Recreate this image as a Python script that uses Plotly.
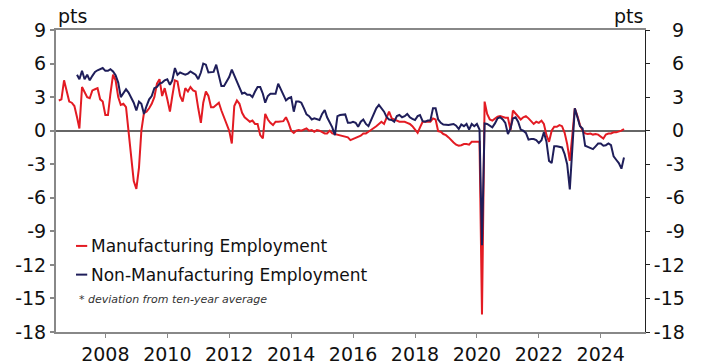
import pandas as pd
import plotly.graph_objects as go

# Monthly values, deviation from ten-year average (pts)
mfg_start = "2006-07-01"
mfg_values = [
    2.7, 2.8, 4.5, 3.6, 2.6, 2.5,
    2.2, 1.2, 0.2, 3.9, 3.4, 3.0, 2.9, 3.6, 3.7, 3.8, 2.8, 2.6,
    1.4, 1.4, 3.3, 5.0, 4.5, 3.0, 2.3, 2.4, 2.1, -0.2, -2.7, -4.5,
    -5.2, -3.3, 0.0, 1.6, 1.7, 2.0, 2.4, 3.0, 4.2, 4.6, 3.1, 3.8,
    2.8, 1.7, 3.1, 4.5, 4.4, 3.1, 2.6, 3.8, 3.5, 3.9, 3.6, 3.5,
    2.0, 0.7, 2.5, 3.5, 3.1, 2.1, 2.1, 2.3, 2.5, 1.8, 1.2, 0.7,
    0.0, -1.15, 2.2, 2.7, 2.4, 1.6, 1.2, 1.0, 0.8, 0.9, 0.6, 0.6,
    -0.4, -0.7, 1.5, 1.0, 0.7, 0.5, 0.8, 0.8, 0.85, 0.85, 1.2, 0.7,
    0.0, -0.2, 0.0, 0.05, 0.0, 0.1, 0.2, 0.0, 0.05, -0.1, 0.05, 0.0,
    -0.1, -0.25, -0.25, 0.0, -0.25, -0.3, -0.4, -0.4, -0.45, -0.55, -0.6, -0.85,
    -0.75, -0.6, -0.5, -0.45, -0.25, -0.25, -0.1, 0.05, 0.2, 0.4, 0.6, 0.8,
    0.6, 1.1, 1.7, 1.1, 1.0, 0.95, 0.8, 0.8, 0.8, 0.7, 0.6, 0.4,
    0.1, -0.2, 0.3, 0.8, 0.8, 0.8, 0.8, 1.1, 1.0, -0.05, -0.1, -0.3,
    -0.4, -0.6, -0.85, -1.05, -1.25, -1.35, -1.3, -1.2, -1.2, -1.25, -1.0, -1.0,
    -1.0, -1.0, -16.44, 2.6, 1.5, 1.0, 0.9, 1.1, 1.25, 1.3, 1.2, 1.15,
    1.15, 0.05, 1.8, 1.5, 1.2, 1.0, 1.2, 1.3, 1.1, 0.8, 0.6, 0.8,
    0.7, 0.9, 0.6, -0.4, -1.0, 0.0, 0.35, 0.35, 0.5, 0.4, -0.2, -1.2,
    -2.7, -0.3, 2.0, 1.3, 0.5, 0.0, -0.25, -0.3, -0.25, -0.35, -0.3, -0.35,
    -0.5, -0.7, -0.35, -0.25, -0.25, -0.15, -0.15, -0.1, 0.0, 0.15,
]

nonmfg_start = "2007-02-01"
nonmfg_values = [
    5.0, 4.6, 5.35, 4.6, 5.0, 4.5, 4.9, 5.25, 5.4, 5.5, 5.6,
    5.35, 5.35, 5.5, 5.3, 4.95, 4.3, 3.0, 3.4, 3.7, 3.4, 2.9, 2.5,
    1.8, 2.6, 2.4, 1.5, 2.2, 2.8, 3.1, 3.8, 3.9, 4.2, 4.3, 4.5,
    4.6, 4.1, 4.5, 5.6, 5.0, 5.2, 5.1, 5.0, 5.1, 5.3, 5.15, 5.0,
    4.6, 5.2, 6.0, 5.9, 5.2, 5.2, 5.25, 5.9, 5.0, 4.0, 4.0, 4.4,
    4.8, 5.45, 4.9, 4.35, 3.9, 3.3, 3.4, 3.2, 3.2, 3.0, 3.5, 3.9,
    3.9, 3.3, 2.5, 3.1, 3.3, 3.3, 3.3, 4.2, 3.7, 3.2, 2.7, 2.9,
    3.0, 1.7, 2.6, 2.6, 2.5, 2.0, 1.45, 1.3, 1.0, 1.1, 1.05, 0.95,
    1.5, 1.85, 1.2, 0.75, 0.3, -0.4, 1.3, 1.4, 1.4, 1.45, 0.7, 0.7,
    0.8, 0.7, 0.35, 0.8, 1.0, 0.6, 0.4, 1.0, 1.5, 2.0, 2.3, 2.0,
    1.7, 1.2, 1.0, 0.95, 0.8, 1.3, 1.4, 1.2, 1.3, 1.5, 1.2, 1.05,
    0.95, 1.3, 1.4, 0.85, 0.8, 0.9, 0.9, 2.0, 2.0, 1.0, 0.7, 0.55,
    0.5, 0.5, 0.55, 0.6, 0.45, 0.15, 0.55, 0.4, 0.6, 0.1, 0.6, 0.4,
    0.6, 0.1, -10.24, 0.65, 0.6, 0.45, 0.3, 0.65, 1.1, 1.2, 1.0, 0.7,
    -0.3, 0.2, 1.1, 1.2, 0.8, 0.1, 0.0, -0.2, -0.8, -0.75, -0.75, -0.85,
    -1.1, -0.85, -0.15, -1.0, -2.7, -2.9, -1.4, -1.4, -1.45, -1.5, -2.1, -3.0,
    -5.25, -1.5, 2.0, 1.2, 0.4, 0.2, -1.35, -1.45, -1.55, -1.65, -1.4, -1.15,
    -1.15, -1.35, -1.3, -1.15, -1.3, -2.3, -2.6, -2.9, -3.4, -2.4,
]

y_ticks = [-18, -15, -12, -9, -6, -3, 0, 3, 6, 9]
series_names = ["Manufacturing Employment", "Non-Manufacturing Employment"]
note_text = "* deviation from ten-year average"
unit_label = "pts"

RED = "#E31B23"
NAVY = "#1F1E5A"
FONT = "DejaVu Sans"

mfg_dates = pd.date_range(mfg_start, periods=len(mfg_values), freq="MS")
nonmfg_dates = pd.date_range(nonmfg_start, periods=len(nonmfg_values), freq="MS")


def right_label(v):
    s = str(v)
    if v >= 0:
        return "\u2008\u2007" + s
    if len(s) == 2:
        return "\u2007" + s
    return s


fig = go.Figure()
fig.add_trace(go.Scatter(x=mfg_dates, y=mfg_values, mode="lines",
                         line=dict(color=RED, width=2), name=series_names[0],
                         showlegend=False))
fig.add_trace(go.Scatter(x=nonmfg_dates, y=nonmfg_values, mode="lines",
                         line=dict(color=NAVY, width=2), name=series_names[1],
                         showlegend=False))
# invisible copy tied to the right-hand axis so it renders
fig.add_trace(go.Scatter(x=nonmfg_dates, y=nonmfg_values, mode="lines",
                         line=dict(color=NAVY, width=0), yaxis="y2",
                         showlegend=False, hoverinfo="skip"))

legend_y = [0.285, 0.19]
key_x0, key_x1, text_x = 0.034, 0.053, 0.056
shapes = [
    dict(type="line", xref="paper", yref="paper", x0=key_x0, x1=key_x1,
         y0=legend_y[0], y1=legend_y[0], line=dict(color=RED, width=2)),
    dict(type="line", xref="paper", yref="paper", x0=key_x0, x1=key_x1,
         y0=legend_y[1], y1=legend_y[1], line=dict(color=NAVY, width=2)),
]

fig.update_layout(
    width=702, height=364,
    margin=dict(l=56, r=57, t=30, b=32, autoexpand=False),
    paper_bgcolor="white", plot_bgcolor="white",
    font=dict(family=FONT, size=19, color="#111111"),
    xaxis=dict(
        type="date", automargin=False,
        range=["2006-05-29", "2025-06-06"],
        tick0="2008-01-01", dtick="M24", tickformat="%Y",
        ticks="outside", ticklen=4, tickcolor="#888888", tickwidth=1,
        showline=True, linecolor="#888888", linewidth=1.5, mirror=True,
        showgrid=False, zeroline=False,
        tickfont=dict(family=FONT, size=19, color="#111111"),
    ),
    yaxis=dict(
        automargin=False,
        range=[-18, 9], tickvals=y_ticks, ticktext=[str(v) for v in y_ticks],
        ticks="outside", ticklen=4, tickcolor="#888888", tickwidth=1.5,
        showline=True, linecolor="#888888", linewidth=2,
        showgrid=False, zeroline=True, zerolinecolor="#666666", zerolinewidth=1.5,
        tickfont=dict(family=FONT, size=19, color="#111111"),
    ),
    yaxis2=dict(
        automargin=False,
        range=[-18, 9], overlaying="y", side="right",
        tickvals=y_ticks, ticktext=[right_label(v) for v in y_ticks],
        ticks="outside", ticklen=4, tickcolor="#222222", tickwidth=1,
        showline=True, linecolor="#222222", linewidth=1,
        showgrid=False, zeroline=False,
        tickfont=dict(family=FONT, size=19, color="#111111"),
    ),
    shapes=shapes,
    annotations=[
        dict(text=unit_label, xref="paper", yref="paper", x=0, y=1,
             xanchor="left", yanchor="bottom", yshift=1, showarrow=False,
             font=dict(family=FONT, size=19, color="#111111")),
        dict(text=unit_label, xref="paper", yref="paper", x=1, y=1,
             xanchor="right", yanchor="bottom", yshift=1, showarrow=False,
             font=dict(family=FONT, size=19, color="#111111")),
        dict(text=series_names[0],
             xref="paper", yref="paper", x=text_x, y=legend_y[0],
             xanchor="left", yanchor="middle", showarrow=False,
             font=dict(family=FONT, size=17, color="#111111")),
        dict(text=series_names[1],
             xref="paper", yref="paper", x=text_x, y=legend_y[1],
             xanchor="left", yanchor="middle", showarrow=False,
             font=dict(family=FONT, size=17, color="#111111")),
        dict(text=f"<i>{note_text}</i>", xref="paper", yref="paper", x=0.035, y=0.108,
             xanchor="left", yanchor="middle", showarrow=False,
             font=dict(family=FONT, size=11, color="#333333")),
    ],
)

fig.write_html("out.html",
               config={"displayModeBar": False},
               post_script="document.body.style.margin='0';document.body.style.overflow='hidden';")
